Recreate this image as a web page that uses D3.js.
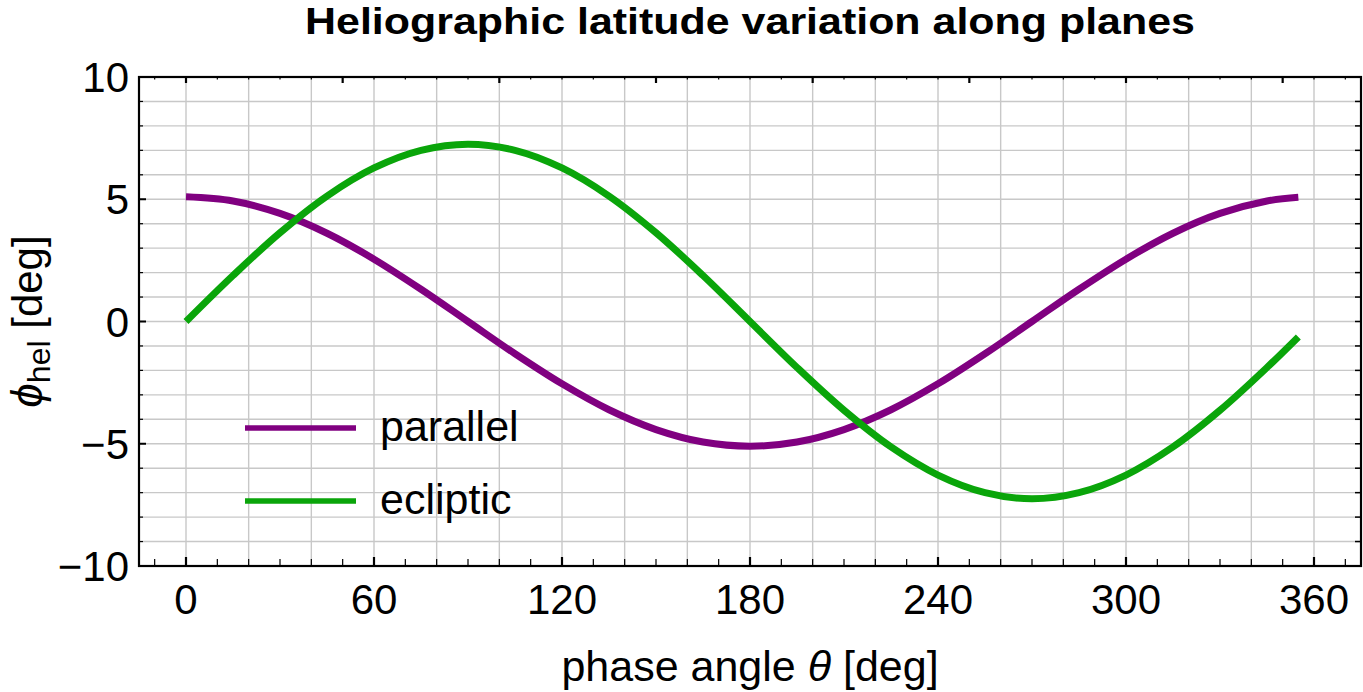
<!DOCTYPE html>
<html>
<head>
<meta charset="utf-8">
<script src="https://cdn.jsdelivr.net/npm/d3@7"></script>
<style>
  body { margin: 0; background: #fff; }
  text { font-family: "Liberation Sans", Arial, sans-serif; fill: #000; }
</style>
</head>
<body>
<div id="chart"></div>
<script>
// Settings
const SIZE = [1363, 692]
const MARGIN = {top: 77, right: 2, bottom: 126, left: 139}

// Data
const theta = [0, 15, 30, 45, 60, 75, 90, 105, 120, 135, 150, 165, 180,
  195, 210, 225, 240, 255, 270, 285, 300, 315, 330, 345, 355]
const parallel = [5.10, 4.93, 4.42, 3.61, 2.55, 1.32, 0.00, -1.32, -2.55, -3.61, -4.42, -4.93, -5.10,
  -4.93, -4.42, -3.61, -2.55, -1.32, 0.00, 1.32, 2.55, 3.61, 4.42, 4.93, 5.08]
const ecliptic = [0.00, 1.88, 3.63, 5.13, 6.28, 7.00, 7.25, 7.00, 6.28, 5.13, 3.63, 1.88, 0.00,
  -1.88, -3.63, -5.13, -6.28, -7.00, -7.25, -7.00, -6.28, -5.13, -3.63, -1.88, -0.63]
const seriesNames = ["parallel", "ecliptic"]
const seriesColors = ["#800080", "#0aa50a"]
const xTickLabels = [0, 60, 120, 180, 240, 300, 360]
const yTickLabels = [-10, -5, 0, 5, 10]

const svg = d3.select("#chart").append("svg")
  .attr("width", SIZE[0])
  .attr("height", SIZE[1])

const x = d3.scaleLinear()
  .domain([-15, 375])
  .range([MARGIN.left, SIZE[0] - MARGIN.right])
const y = d3.scaleLinear()
  .domain([-10, 10])
  .range([SIZE[1] - MARGIN.bottom, MARGIN.top])

const x0 = x.range()[0], x1 = x.range()[1]
const y0 = y.range()[0], y1 = y.range()[1]

// grid
const grid = svg.append("g").attr("stroke", "#c8c8c8").attr("stroke-width", 1.4)
grid.selectAll(".gx")
  .data(d3.range(0, 361, 20))
  .join("line")
    .attr("x1", d => x(d)).attr("x2", d => x(d))
    .attr("y1", y1).attr("y2", y0)
grid.selectAll(".gy")
  .data(d3.range(-9, 10, 1))
  .join("line")
    .attr("y1", d => y(d)).attr("y2", d => y(d))
    .attr("x1", x0).attr("x2", x1)

// frame ticks
const ticks = svg.append("g").attr("stroke", "#000")
const tenths = d3.range(-10, 371, 10)
ticks.selectAll(".bt")
  .data(tenths)
  .join("line")
    .attr("x1", d => x(d)).attr("x2", d => x(d))
    .attr("y1", y0).attr("y2", d => y0 - (d % 60 === 0 ? 9 : 7))
    .attr("stroke-width", d => d % 60 === 0 ? 2.2 : 1.2)
ticks.selectAll(".tt")
  .data(tenths)
  .join("line")
    .attr("x1", d => x(d)).attr("x2", d => x(d))
    .attr("y1", y1).attr("y2", d => y1 + (d % 50 === 0 ? 6 : 2.5))
    .attr("stroke-width", d => d % 50 === 0 ? 2.2 : 1.2)
ticks.selectAll(".lt")
  .data(d3.range(-9, 10, 1))
  .join("line")
    .attr("y1", d => y(d)).attr("y2", d => y(d))
    .attr("x1", x0).attr("x2", d => x0 + (d % 5 === 0 ? 7 : 4))
    .attr("stroke-width", d => d % 5 === 0 ? 2 : 1.2)
ticks.selectAll(".rt")
  .data(d3.range(-9, 10, 1))
  .join("line")
    .attr("y1", d => y(d)).attr("y2", d => y(d))
    .attr("x1", x1).attr("x2", x1 - 6)
    .attr("stroke-width", 1.5)

// frame
svg.append("rect")
  .attr("x", x0).attr("y", y1)
  .attr("width", x1 - x0).attr("height", y0 - y1)
  .attr("fill", "none").attr("stroke", "#000").attr("stroke-width", 2.2)

// tick labels
svg.append("g").selectAll("text")
  .data(xTickLabels)
  .join("text")
    .attr("x", d => x(d)).attr("y", y0 + 48)
    .attr("text-anchor", "middle")
    .attr("font-size", 42)
    .text(d => d)
svg.append("g").selectAll("text")
  .data(yTickLabels)
  .join("text")
    .attr("x", x0 - 10).attr("y", d => y(d) + 15)
    .attr("text-anchor", "end")
    .attr("font-size", 42)
    .text(d => d < 0 ? "\u2212" + Math.abs(d) : d)

// curves
const line = d3.line()
  .x((d, i) => x(theta[i]))
  .y(d => y(d))
  .curve(d3.curveCatmullRom)

svg.append("g")
    .attr("fill", "none")
    .attr("stroke-width", 7)
    .attr("stroke-linejoin", "round")
  .selectAll("path")
  .data([parallel, ecliptic])
  .join("path")
    .attr("stroke", (d, i) => seriesColors[i])
    .attr("d", line)

// legend
const legend = svg.append("g")
const legendY = [428, 501]
seriesNames.forEach((name, i) => {
  legend.append("line")
    .attr("x1", 245).attr("x2", 356)
    .attr("y1", legendY[i]).attr("y2", legendY[i])
    .attr("stroke", seriesColors[i]).attr("stroke-width", 5.5)
  legend.append("text")
    .attr("x", 380).attr("y", legendY[i] + 13)
    .attr("font-size", 43)
    .text(name)
})

// title and axis labels
svg.append("text")
  .attr("x", (x0 + x1) / 2).attr("y", 34)
  .attr("text-anchor", "middle")
  .attr("font-size", 37)
  .attr("font-weight", "bold")
  .attr("textLength", 890)
  .attr("lengthAdjust", "spacingAndGlyphs")
  .text("Heliographic latitude variation along planes")

const xl = svg.append("text")
  .attr("x", (x0 + x1) / 2).attr("y", 681)
  .attr("text-anchor", "middle")
  .attr("font-size", 43)
xl.append("tspan").text("phase angle ")
xl.append("tspan").attr("font-style", "italic").text("\u03b8")
xl.append("tspan").text(" [deg]")

const yl = svg.append("text")
  .attr("transform", `translate(42,${(y0 + y1) / 2}) rotate(-90)`)
  .attr("text-anchor", "middle")
  .attr("font-size", 42)
yl.append("tspan").attr("font-style", "italic").attr("font-size", 44).text("\u03d5")
yl.append("tspan").attr("font-size", 32).attr("dy", 8).text("hel")
yl.append("tspan").attr("dy", -8).text(" [deg]")
</script>
</body>
</html>
